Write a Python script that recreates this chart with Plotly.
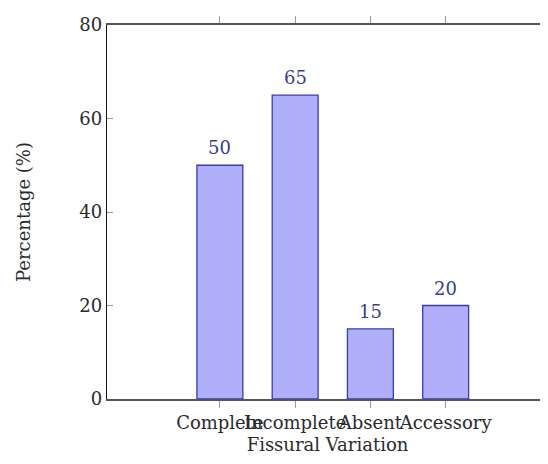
import plotly.graph_objects as go

categories = ["Complete", "Incomplete", "Absent", "Accessory"]
percentages = [50, 65, 15, 20]
y_ticks = [0, 20, 40, 60, 80]

FONT = "DejaVu Serif"
FS = 18
BAR_FILL = "#B0B0FA"
BAR_LINE = "#3A3AB0"
LABEL_COLOR = "#3B3B95"
TEXT_COLOR = "#2a2a2a"

fig = go.Figure()
fig.add_trace(go.Bar(
    x=categories,
    y=percentages,
    width=0.61,
    marker=dict(color=BAR_FILL, line=dict(color=BAR_LINE, width=1.3)),
    hoverinfo="x+y",
))

for c, v in zip(categories, percentages):
    fig.add_annotation(
        x=c, y=v, text=str(v), showarrow=False,
        xref="x", yref="y", yanchor="bottom", yshift=5,
        font=dict(family=FONT, size=FS, color=LABEL_COLOR),
    )

fig.update_layout(
    width=540, height=456,
    margin=dict(l=99, r=0, t=17, b=65),
    paper_bgcolor="white", plot_bgcolor="white",
    font=dict(family=FONT, size=FS, color=TEXT_COLOR),
    showlegend=False,
    bargap=0.39,
)

fig.update_xaxes(
    type="category",
    range=[-1.5, 4.36],
    tickangle=0,
    showline=True, linecolor="#555", linewidth=1.6, mirror="ticks",
    ticks="outside", ticklen=7, tickcolor="#999", tickwidth=1,
    showgrid=False, zeroline=False,
    tickfont=dict(family=FONT, size=FS, color=TEXT_COLOR),
    title=dict(text="Fissural Variation", font=dict(family=FONT, size=FS, color=TEXT_COLOR), standoff=6),
)
fig.update_yaxes(
    range=[0, 80],
    tickvals=y_ticks,
    showline=True, linecolor="#111", linewidth=1.4, mirror="ticks",
    ticks="inside", ticklen=6, tickcolor="#999", tickwidth=1,
    showgrid=False, zeroline=False,
    tickfont=dict(family=FONT, size=FS, color=TEXT_COLOR),
    title=dict(text="Percentage (%)", font=dict(family=FONT, size=FS, color=TEXT_COLOR), standoff=43),
)

fig.write_html("out.html")
